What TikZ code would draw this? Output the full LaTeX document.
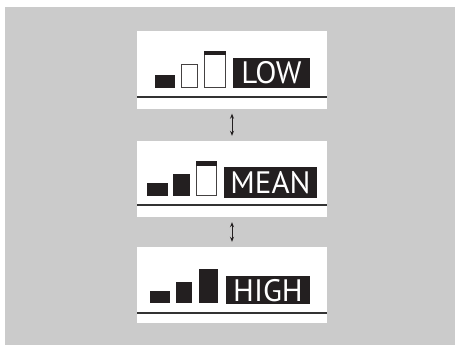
\documentclass[tikz,border=0pt]{standalone}
\usepackage{fontspec}
\setsansfont{PT Sans}
\usetikzlibrary{arrows.meta}
\definecolor{ink}{HTML}{231F20}
\definecolor{bg}{HTML}{CBCBCB}
\definecolor{rule}{HTML}{333333}
\tikzset{
  panel/.style={fill=white, draw=none, minimum width=190pt, minimum height=76pt, inner sep=0pt},
  lvlbox/.style={fill=ink, text=white, inner sep=0pt, text height=22pt, text depth=0pt,
     font=\sffamily\fontsize{31}{31}\selectfont},
  solidbar/.style={fill=ink, draw=none},
  emptybar/.style={draw=ink!85, line width=1pt, fill=white},
  panelrule/.style={draw=rule, line width=1.4pt},
  link/.style={{Stealth[length=5pt,width=4pt]}-{Stealth[length=5pt,width=4pt]}, line width=0.9pt, draw=ink, shorten <=5pt, shorten >=5pt}
}
\begin{document}
\begin{tikzpicture}[x=1pt,y=-1pt]
\useasboundingbox (0,0) rectangle (455,345);
\fill[white] (0,0) rectangle (455,345);
\fill[bg] (5,7) rectangle (455,345);

% panels
\node[panel, minimum height=77pt] (p1) at (232,70) {};
\node[panel] (p2) at (232,179) {};
\node[panel] (p3) at (232,285) {};

% rules
\draw[panelrule] (137,97) -- (327,97);
\draw[panelrule] (137,205) -- (327,205);
\draw[panelrule] (137,313) -- (327,313);

% LOW bars
\fill[solidbar] (155,75) rectangle (175,88);
\draw[emptybar] (181.5,64.5) rectangle (197.5,87.5);
\draw[emptybar] (204.5,51.5) rectangle (225.5,87.5);
\fill[ink] (204,51) rectangle (226,55.5);
\node[lvlbox, minimum width=77pt, minimum height=30pt] (low) at (271.5,73) {LOW};

% MEAN bars
\fill[solidbar] (147,183) rectangle (168,196);
\fill[solidbar] (173,174) rectangle (190,196);
\draw[emptybar] (196.5,161.5) rectangle (216.5,195.5);
\fill[ink] (196,161) rectangle (217,165.5);
\node[lvlbox, minimum width=93pt, minimum height=31pt] (mean) at (270.5,182.5) {MEAN};

% HIGH bars
\fill[solidbar] (150,291) rectangle (170,303);
\fill[solidbar] (176,282) rectangle (192,303);
\fill[solidbar] (199,269) rectangle (218,303);
\node[lvlbox, minimum width=84pt, minimum height=28pt] (high) at (268,290) {HIGH};

% connectors
\draw[link] (p1.south) -- (p2.north);
\draw[link] (p2.south) -- (p3.north);
\end{tikzpicture}
\end{document}
